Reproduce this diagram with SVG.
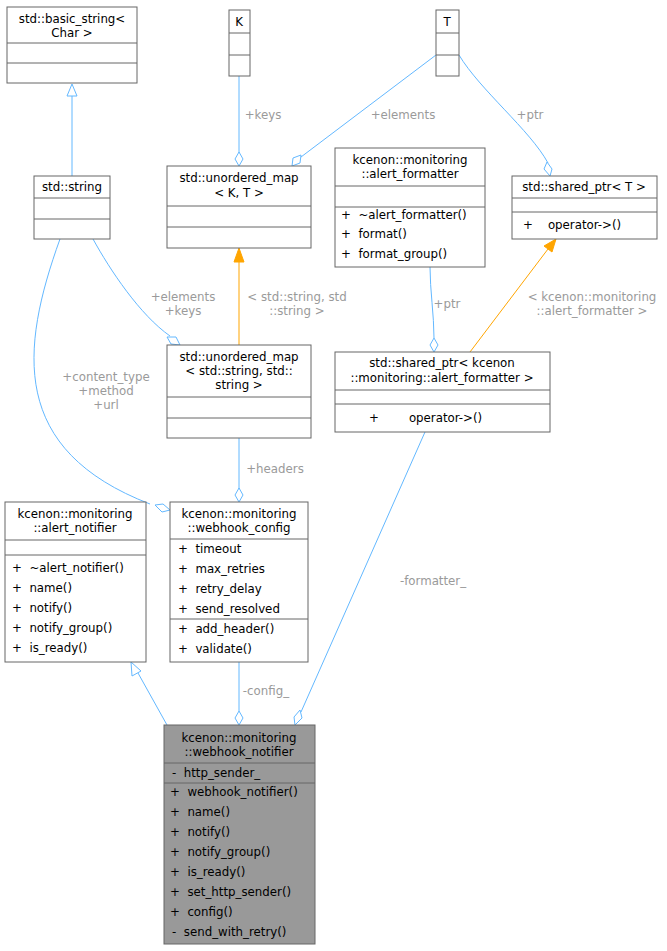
<svg xmlns="http://www.w3.org/2000/svg" width="667" height="951" viewBox="0 0 667 951">
<style>
text{font-family:"DejaVu Sans",sans-serif;font-size:11.8px;fill:#000;white-space:pre}
.b{fill:#fff;stroke:#666;stroke-width:1}
.g{fill:#999;stroke:#666;stroke-width:1}
.s{stroke:#666;stroke-width:1}
.c{text-anchor:middle}
.e{fill:none;stroke:#63b8ff;stroke-width:1}
.o{fill:none;stroke:#ffa500;stroke-width:1}
.d{fill:#fff;stroke:#63b8ff;stroke-width:1}
.l{fill:#9a9a9a;text-anchor:middle}
</style>
<rect width="667" height="951" fill="#fff"/>
<g id="edges">
<path class="e" d="M72,176V95"/><polygon class="d" points="72,84 67,96 77,96"/>
<path class="e" d="M239,76V153"/><polygon class="d" points="239,166 235,159 239,152 243,159"/>
<text class="l" x="263" y="119">+keys</text>
<path class="e" d="M436,55L301,157"/><polygon class="d" points="292,166 293,158 301,155 300,163"/>
<text class="l" x="403" y="119">+elements</text>
<path class="e" d="M459,55C480,90 530,130 548,163"/><polygon class="d" points="550,176 544,169 547,162 552,169"/>
<text class="l" x="530" y="119">+ptr</text>
<path class="e" d="M93,239C110,270 140,315 170,336"/><polygon class="d" points="180,345 171,344 167,337 176,337"/>
<text class="l" x="183" y="301">+elements</text><text class="l" x="183" y="315">+keys</text>
<path class="o" d="M239,345V260"/><polygon points="239,248 234,262 244,262" fill="#ffa500" stroke="#ffa500"/>
<text class="l" x="297" y="301">&lt; std::string, std</text><text class="l" x="297" y="315">::string &gt;</text>
<path class="e" d="M430,267C430,290 434,315 434,338"/><polygon class="d" points="434,352 430,345 434,338 438,345"/>
<text class="l" x="447" y="308">+ptr</text>
<path class="o" d="M470,352L548,249"/><polygon points="556,239 544,246 552,252" fill="#ffa500" stroke="#ffa500"/>
<text class="l" x="592" y="301">&lt; kcenon::monitoring</text><text class="l" x="592" y="315">::alert_formatter &gt;</text>
<path class="e" d="M60,239C20,350 10,450 150,504"/><polygon class="d" points="170,510 162,512 155,505 163,504"/>
<text class="l" x="106" y="381">+content_type</text><text class="l" x="106" y="395">+method</text><text class="l" x="106" y="409">+url</text>
<path class="e" d="M239,438V489"/><polygon class="d" points="239,502 235,495 239,488 243,495"/>
<text class="l" x="275" y="473">+headers</text>
<path class="e" d="M167,725L138,673"/><polygon class="d" points="131,662 132,676 141,671"/>
<path class="e" d="M239,662V711"/><polygon class="d" points="239,725 235,718 239,711 243,718"/>
<text class="l" x="266" y="695">-config_</text>
<path class="e" d="M425,432L301,712"/><polygon class="d" points="295,725 294,717 300,710 302,718"/>
<text class="l" x="433" y="585">-formatter_</text>
</g>
<g id="basic_string"><rect class="b" x="7" y="7" width="130" height="76"/><text class="c" x="72" y="23">std::basic_string&lt;</text><text class="c" x="72" y="37">Char &gt;</text><path class="s" d="M7,43H137M7,63H137"/></g>
<g id="string"><rect class="b" x="34" y="176" width="76" height="63"/><text class="c" x="72" y="191">std::string</text><path class="s" d="M34,198H110M34,219H110"/></g>
<g id="K"><rect class="b" x="229" y="10" width="21" height="66"/><text class="c" x="239" y="26">K</text><path class="s" d="M229,33H250M229,55H250"/></g>
<g id="T"><rect class="b" x="436" y="10" width="23" height="66"/><text class="c" x="447" y="26">T</text><path class="s" d="M436,33H459M436,55H459"/></g>
<g id="umap_kt"><rect class="b" x="167" y="166" width="144" height="82"/><text class="c" x="239" y="182">std::unordered_map</text><text class="c" x="239" y="197">&lt; K, T &gt;</text><path class="s" d="M167,206H311M167,227H311"/></g>
<g id="alert_formatter"><rect class="b" x="335" y="148" width="150" height="119"/><text class="c" x="410" y="164">kcenon::monitoring</text><text class="c" x="410" y="178">::alert_formatter</text><path class="s" d="M335,186H485M335,207H485"/><text x="341" y="219">+  ~alert_formatter()</text><text x="341" y="238">+  format()</text><text x="341" y="258">+  format_group()</text></g>
<g id="shared_ptr_t"><rect class="b" x="512" y="176" width="145" height="63"/><text class="c" x="584" y="191">std::shared_ptr&lt; T &gt;</text><path class="s" d="M512,198H657M512,212H657"/><text x="523" y="229">+    operator-&gt;()</text></g>
<g id="umap_str"><rect class="b" x="167" y="345" width="144" height="93"/><text class="c" x="239" y="361">std::unordered_map</text><text class="c" x="239" y="375">&lt; std::string, std::</text><text class="c" x="239" y="389">string &gt;</text><path class="s" d="M167,397H311M167,418H311"/></g>
<g id="shared_ptr_af"><rect class="b" x="335" y="352" width="215" height="80"/><text class="c" x="442" y="367">std::shared_ptr&lt; kcenon</text><text class="c" x="442" y="382">::monitoring::alert_formatter &gt;</text><path class="s" d="M335,390H550M335,404H550"/><text x="369" y="422">+        operator-&gt;()</text></g>
<g id="alert_notifier"><rect class="b" x="5" y="502" width="141" height="160"/><text class="c" x="75" y="518">kcenon::monitoring</text><text class="c" x="75" y="532">::alert_notifier</text><path class="s" d="M5,540H146M5,555H146"/><text x="12" y="572">+  ~alert_notifier()</text><text x="12" y="592">+  name()</text><text x="12" y="612">+  notify()</text><text x="12" y="632">+  notify_group()</text><text x="12" y="652">+  is_ready()</text></g>
<g id="webhook_config"><rect class="b" x="170" y="502" width="138" height="160"/><text class="c" x="239" y="518">kcenon::monitoring</text><text class="c" x="239" y="532">::webhook_config</text><path class="s" d="M170,539H308"/><text x="178" y="553">+  timeout</text><text x="178" y="573">+  max_retries</text><text x="178" y="593">+  retry_delay</text><text x="178" y="613">+  send_resolved</text><path class="s" d="M170,619H308"/><text x="178" y="633">+  add_header()</text><text x="178" y="653">+  validate()</text></g>
<g id="webhook_notifier"><rect class="g" x="164" y="725" width="151" height="219"/><text class="c" x="239" y="742">kcenon::monitoring</text><text class="c" x="239" y="756">::webhook_notifier</text><path class="s" d="M164,763H315"/><text x="172" y="777">-  http_sender_</text><path class="s" d="M164,783H315"/><text x="170" y="796">+  webhook_notifier()</text><text x="170" y="816">+  name()</text><text x="170" y="836">+  notify()</text><text x="170" y="856">+  notify_group()</text><text x="170" y="876">+  is_ready()</text><text x="170" y="896">+  set_http_sender()</text><text x="170" y="916">+  config()</text><text x="172" y="936">-  send_with_retry()</text></g>
</svg>
